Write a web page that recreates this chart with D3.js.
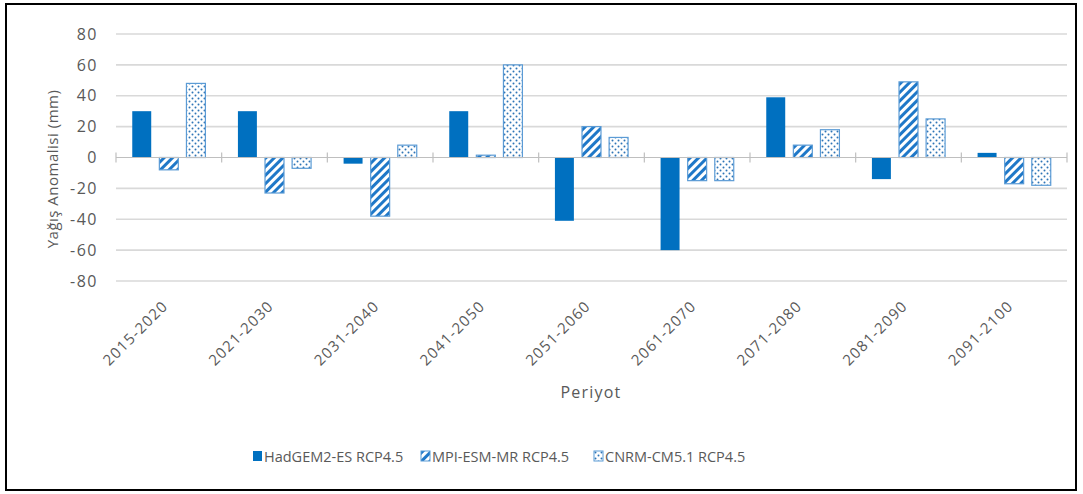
<!DOCTYPE html>
<html>
<head>
<meta charset="utf-8">
<script src="https://cdn.jsdelivr.net/npm/d3@7"></script>
<style>
  body { margin: 0; background: #fff; }
  text { font-family: "Open Sans", "Noto Sans", sans-serif; fill: #595959; }
</style>
</head>
<body>
<div class="chart"></div>
<script>
// data
var periods = ["2015-2020", "2021-2030", "2031-2040", "2041-2050", "2051-2060",
               "2061-2070", "2071-2080", "2081-2090", "2091-2100"];
var seriesNames = ["HadGEM2-ES RCP4.5", "MPI-ESM-MR RCP4.5", "CNRM-CM5.1 RCP4.5"];
var hadgem = [30, 30, -4, 30, -41, -60, 39, -14, 3];
var mpi = [-8, -23, -38, 1.5, 20, -15, 8, 49, -17];
var cnrm = [48, -7, 8, 60, 13, -15, 18, 25, -18];
var yTicks = [-80, -60, -40, -20, 0, 20, 40, 60, 80];

var svgWidth = 1083;
var svgHeight = 494;

var margin = { top: 34, left: 116, right: 16, bottom: 213 };
var width = 1067 - margin.left;
var height = 281 - margin.top;

var svg = d3.select(".chart")
  .append("svg")
  .attr("width", svgWidth)
  .attr("height", svgHeight);

// patterns for the two hatched series
var defs = svg.append("defs");
var stripes = defs.append("pattern")
  .attr("id", "stripes")
  .attr("patternUnits", "userSpaceOnUse")
  .attr("width", 6)
  .attr("height", 6)
  .attr("patternTransform", "rotate(45)");
stripes.append("rect").attr("width", 6).attr("height", 6).attr("fill", "#fff");
stripes.append("rect").attr("x", 0).attr("width", 3).attr("height", 6).attr("fill", "#1f78c8");

var dots = defs.append("pattern")
  .attr("id", "dots")
  .attr("patternUnits", "userSpaceOnUse")
  .attr("width", 6)
  .attr("height", 6);
dots.append("rect").attr("width", 6).attr("height", 6).attr("fill", "#fff");
dots.append("circle").attr("cx", 1.5).attr("cy", 1.5).attr("r", 1).attr("fill", "#2e75b6");
dots.append("circle").attr("cx", 4.5).attr("cy", 4.5).attr("r", 1).attr("fill", "#2e75b6");

var fills = ["#0070c0", "url(#stripes)", "url(#dots)"];
var strokes = ["#0070c0", "#5b9bd5", "#5b9bd5"];

// outer frame
svg.append("rect")
  .attr("x", 6).attr("y", 4)
  .attr("width", 1070).attr("height", 486)
  .attr("fill", "none")
  .attr("stroke", "#000")
  .attr("stroke-width", 2);

var chartGroup = svg.append("g")
  .attr("transform", `translate(${margin.left}, ${margin.top})`);

var x0 = d3.scaleBand().domain(periods).range([0, width]);
var x1 = d3.scaleBand().domain(d3.range(3)).range([0, x0.bandwidth()])
  .paddingInner(0.3).paddingOuter(0.6);
var y = d3.scaleLinear().domain([-80, 80]).range([height, 0]);

// gridlines
chartGroup.selectAll(".grid")
  .data(yTicks.filter(d => d !== 0))
  .enter()
  .append("line")
  .attr("x1", 0).attr("x2", width)
  .attr("y1", d => y(d)).attr("y2", d => y(d))
  .attr("stroke", "#d9d9d9")
  .attr("stroke-width", 1.6);

// y tick labels
var leftAxis = d3.axisLeft(y).tickValues(yTicks).tickSize(0).tickPadding(18)
  .tickFormat(d => String(d));
var yAxis = chartGroup.append("g").call(leftAxis);
yAxis.select(".domain").remove();
yAxis.selectAll("text")
  .style("font-size", "16px")
  .style("letter-spacing", "1.5px")
  .style("fill", "#595959")
  .style("font-family", "'Open Sans', sans-serif");

// bars
var seriesData = [hadgem, mpi, cnrm];
seriesData.forEach(function(vals, s) {
  chartGroup.selectAll(".bar" + s)
    .data(vals)
    .enter()
    .append("rect")
    .attr("x", (d, i) => x0(periods[i]) + x1(s))
    .attr("y", d => y(Math.max(0, d)))
    .attr("width", x1.bandwidth())
    .attr("height", d => Math.abs(y(d) - y(0)))
    .attr("fill", fills[s])
    .attr("stroke", strokes[s])
    .attr("stroke-width", s === 0 ? 0 : 1.2);
});

// zero axis with cross ticks
chartGroup.append("line")
  .attr("x1", 0).attr("x2", width)
  .attr("y1", y(0)).attr("y2", y(0))
  .attr("stroke", "#bfbfbf")
  .attr("stroke-width", 1.2);
var tickPos = periods.map(p => x0(p)).concat([width]);
chartGroup.selectAll(".xtick")
  .data(tickPos)
  .enter()
  .append("line")
  .attr("x1", d => d).attr("x2", d => d)
  .attr("y1", y(0) - 5).attr("y2", y(0) + 5)
  .attr("stroke", "#bfbfbf")
  .attr("stroke-width", 1.2);

// rotated period labels
chartGroup.selectAll(".xlabel")
  .data(periods)
  .enter()
  .append("text")
  .attr("text-anchor", "end")
  .attr("transform", d => `translate(${x0(d) + x0.bandwidth() / 2}, ${height + 26}) rotate(-45)`)
  .style("font-size", "15px")
  .style("letter-spacing", "1.2px")
  .text(d => d);

// axis titles
svg.append("text")
  .attr("x", 591).attr("y", 398)
  .attr("text-anchor", "middle")
  .style("font-size", "16px")
  .style("letter-spacing", "1.2px")
  .text("Periyot");

svg.append("text")
  .attr("transform", "translate(58, 169) rotate(-90)")
  .attr("text-anchor", "middle")
  .style("font-size", "15px")
  .style("letter-spacing", "0.5px")
  .text("Yağış Anomalisi (mm)");

// legend
var legendX = [253, 421, 594];
var legend = svg.selectAll(".legend")
  .data(seriesNames)
  .enter()
  .append("g")
  .attr("transform", (d, i) => `translate(${legendX[i]}, 451)`);
legend.append("rect")
  .attr("width", 9).attr("height", 10)
  .attr("fill", (d, i) => fills[i])
  .attr("stroke", (d, i) => strokes[i])
  .attr("stroke-width", (d, i) => i === 0 ? 0 : 1);
legend.append("text")
  .attr("x", 11).attr("y", 10.5)
  .style("font-size", "14.5px")
  .text(d => d);
</script>
</body>
</html>
